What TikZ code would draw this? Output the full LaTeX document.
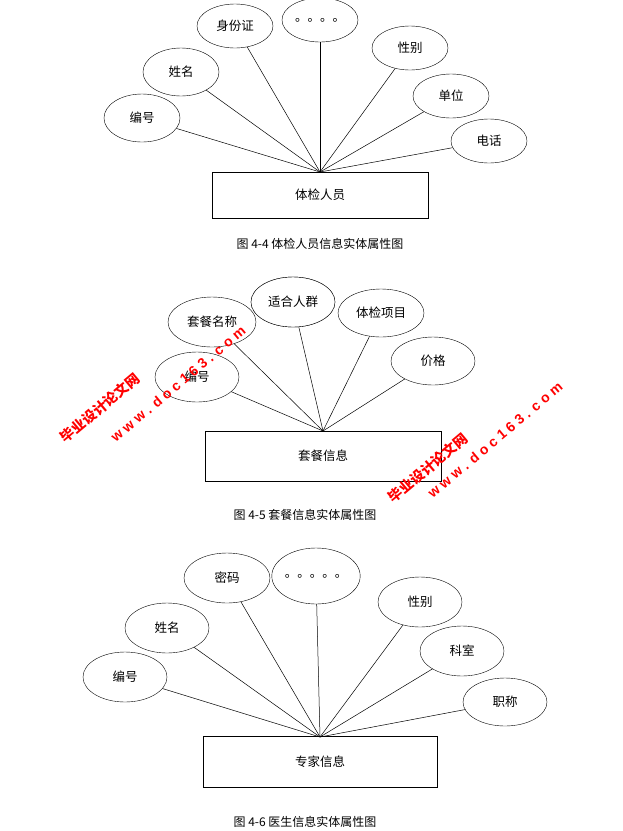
\documentclass[tikz,border=0pt]{standalone}
\usepackage{fontspec}
\setmainfont{Liberation Serif}
\newfontfamily\cjk{Noto Sans CJK SC}
\newfontfamily\wmsans{Liberation Sans}
\usetikzlibrary{shapes.geometric}
\tikzset{
 attr/.style={ellipse,draw,fill=white,inner sep=0pt,font=\cjk\fontsize{12.5}{14}\selectfont},
 ent/.style={draw,fill=white,minimum width=216pt,minimum height=46pt,font=\cjk\fontsize{12.5}{14}\selectfont},
 captxt/.style={font=\cjk\fontsize{12}{14}\selectfont},
 wm/.style={text=red,font=\bfseries\fontsize{14}{16}\selectfont,rotate=40},
 ln/.style={draw,line width=0.5pt}
}
\begin{document}
\begin{tikzpicture}[x=1pt,y=-1pt]
\useasboundingbox (0,0) rectangle (622,831);
% diagram 1
\node[ent] (e1) at (320,195) {体检人员};
\coordinate (c1) at (320,172);
\node[attr,minimum width=76pt,minimum height=48pt] (a1) at (142,118) {编号};
\node[attr,minimum width=76pt,minimum height=48pt] (a2) at (181,72) {姓名};
\node[attr,minimum width=76pt,minimum height=44pt] (a3) at (235,26) {身份证};
\node[attr,minimum width=76pt,minimum height=44pt] (a4) at (320,20) {。。。。};
\node[attr,minimum width=76pt,minimum height=44pt] (a5) at (410,48) {性别};
\node[attr,minimum width=76pt,minimum height=44pt] (a6) at (451,96) {单位};
\node[attr,minimum width=76pt,minimum height=44pt] (a7) at (489,141) {电话};
\foreach \n in {a1,a2,a3,a4,a5,a6,a7} \draw[ln] (\n) -- (c1);
\node[captxt] (t1) at (320,244) {图 4-4 体检人员信息实体属性图};
% diagram 2
\node[ent,minimum width=236pt,minimum height=50pt] (e2) at (323,456) {套餐信息};
\coordinate (c2) at (323,431);
\node[attr,minimum width=88pt,minimum height=50pt] (b1) at (212,322) {套餐名称};
\node[attr,minimum width=84pt,minimum height=50pt] (b2) at (293,302) {适合人群};
\node[attr,minimum width=86pt,minimum height=48pt] (b3) at (381,313) {体检项目};
\node[attr,minimum width=84pt,minimum height=50pt] (b4) at (197,377) {编号};
\node[attr,minimum width=84pt,minimum height=48pt] (b5) at (433,361) {价格};
\foreach \n in {b1,b2,b3,b4,b5} \draw[ln] (\n) -- (c2);
\node[attr,minimum width=84pt,minimum height=50pt] (b2top) at (293,302) {适合人群};
\node[captxt] (t2) at (305,515) {图 4-5 套餐信息实体属性图};
% diagram 3
\node[ent,minimum width=234pt,minimum height=51pt] (e3) at (320,762) {专家信息};
\coordinate (c3) at (320,737);
\node[attr,minimum width=86pt,minimum height=50pt] (d1) at (227,578) {密码};
\node[attr,minimum width=80pt,minimum height=56pt] (d2) at (316,576) {。。。。。};
\node[attr,minimum width=84pt,minimum height=50pt] (d3) at (420,602) {性别};
\node[attr,minimum width=84pt,minimum height=50pt] (d4) at (167,628) {姓名};
\node[attr,minimum width=84pt,minimum height=50pt] (d5) at (462,651) {科室};
\node[attr,minimum width=84pt,minimum height=50pt] (d6) at (125,677) {编号};
\node[attr,minimum width=84pt,minimum height=48pt] (d7) at (505,702) {职称};
\foreach \n in {d1,d2,d3,d4,d5,d6,d7} \draw[ln] (\n) -- (c3);
\node[captxt] (t3) at (305,822) {图 4-6 医生信息实体属性图};
% watermarks
\node[wm] (w1) at (100,408) {\cjk 毕业设计论文网};
\node[wm] (w2) at (178,384) {\wmsans w w w . d o c 1 6 3 . c o m};
\node[wm] (w3) at (428,468) {\cjk 毕业设计论文网};
\node[wm] (w4) at (495,440) {\wmsans w w w . d o c 1 6 3 . c o m};
\end{tikzpicture}
\end{document}
